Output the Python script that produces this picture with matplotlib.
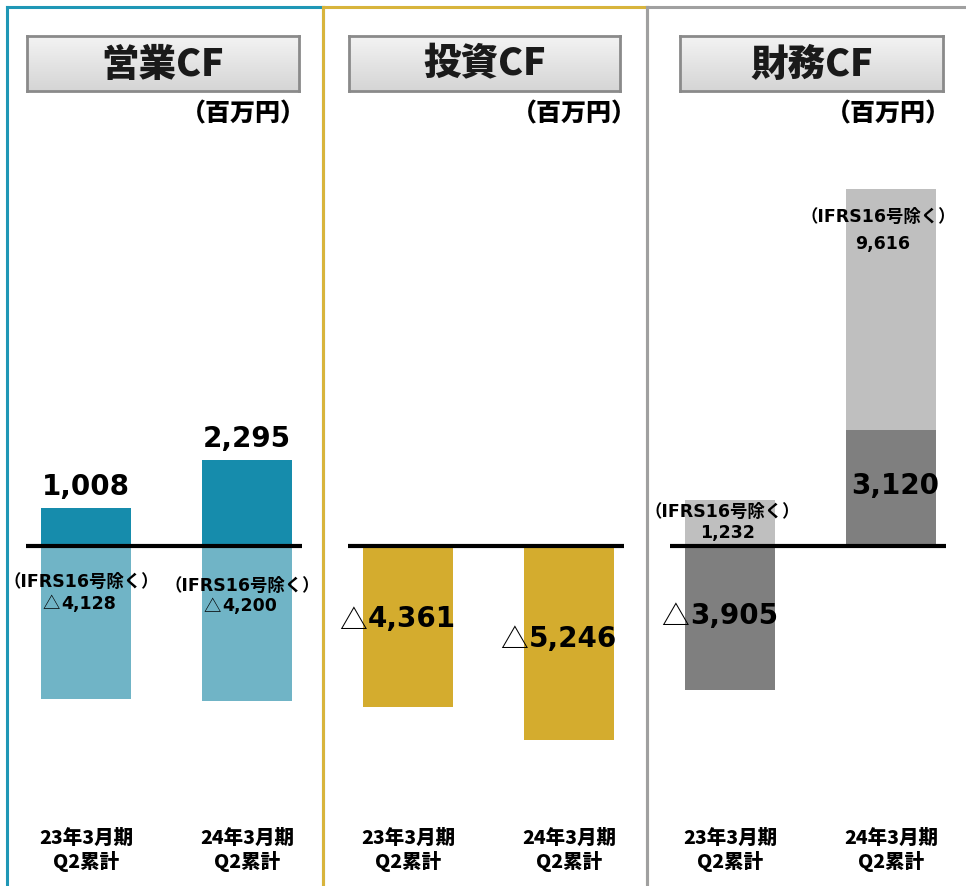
import numpy as np
import matplotlib
matplotlib.use('Agg')
from matplotlib import pyplot as plt
from matplotlib import transforms

# data (百万円)
periods = ['23年3月期\nQ2累計', '24年3月期\nQ2累計']
titles = ['営業CF', '投資CF', '財務CF']
op_cf = [1008, 2295]
op_cf_ex = [-4128, -4200]      # IFRS16号除く
inv_cf = [-4361, -5246]
fin_cf = [-3905, 3120]
fin_cf_ex = [1232, 9616]       # IFRS16号除く

teal, teal_l = '#168cac', '#70b4c6'
gold = '#d4ac2e'
gray, gray_l = '#7f7f7f', '#bfbfbf'

W, H = 966, 886
fig = plt.figure(figsize=(W / 100, H / 100), dpi=100)

jp = ['Noto Sans CJK JP', 'DejaVu Sans']
num = ['DejaVu Sans', 'Noto Sans CJK JP']

k = 0.0371          # px per unit
base = 545.5        # baseline pixel (from top)
top_px = 7
step = 161          # px between the two bars


def fy(p):
    return 1 - p / H


def panel(left, width, c0, edge):
    ax = fig.add_axes([left / W, 0, width / W, (H - top_px) / H])
    ax.set_ylim(-(H - base) / k, (base - top_px) / k)
    ax.set_xlim((left - c0) / step, (left + width - c0) / step)
    ax.set_xticks([])
    ax.set_yticks([])
    ax.patch.set_alpha(0)
    for s in ['left', 'top', 'right']:
        ax.spines[s].set_color(edge)
        ax.spines[s].set_linewidth(2.2)
    ax.spines['bottom'].set_visible(False)
    return ax


def title_box(x0, x1, text):
    tax = fig.add_axes([x0 / W, fy(91), (x1 - x0) / W, 55 / H])
    grad = np.linspace(0, 1, 50).reshape(-1, 1)
    tax.imshow(grad, aspect='auto', cmap=matplotlib.colors.LinearSegmentedColormap.from_list(
        'g', ['#f3f3f3', '#d5d5d5']), extent=[0, 1, 0, 1], origin='upper')
    tax.set_xticks([])
    tax.set_yticks([])
    for s in tax.spines.values():
        s.set_color('#8a8a8a')
        s.set_linewidth(2)
    tax.text(0.5, 0.48, text, ha='center', va='center', fontsize=27,
             fontweight='black', family=jp, color='#1a1a1a', transform=tax.transAxes)


def value(ax, x, y, v, size, dx=0, dy=0):
    t = ax.annotate(f'{abs(v):,}', (x, y), xytext=(dx, dy), textcoords='offset points',
                    ha='center', va='center', fontsize=size, fontweight='bold',
                    family=num, color='black')
    if v < 0:
        ax.annotate('△', xy=(0, 0.45), xycoords=t, xytext=(-1, 0), textcoords='offset points',
                    ha='right', va='center', fontsize=size, family=jp, color='black')
    return t


def note(ax, x, y, dx=0, dy=0):
    ax.annotate('（IFRS16号除く）', (x, y), xytext=(dx, dy), textcoords='offset points',
                ha='center', va='center', fontsize=12.5, fontweight='bold', family=num)


def finish(ax):
    ax.hlines(0, -0.37, 1.34, color='black', lw=3, zorder=5)
    tr = transforms.blended_transform_factory(ax.transData, fig.transFigure)
    for i, p in enumerate(periods):
        for j, line in enumerate(p.split('\n')):
            ax.text(i, fy(838 + 24 * j), line, transform=tr, ha='center', va='center',
                    fontsize=14, fontweight='black', family=jp)


pt = 0.72  # px -> points
x = np.arange(len(periods))
bw = 90 / step

# 営業CF
ax1 = panel(7, 316, 86, '#1f97b6')
ax1.bar(x, op_cf_ex, bw, color=teal_l)
ax1.bar(x, op_cf, bw, color=teal)
for i in range(len(periods)):
    value(ax1, i, op_cf[i], op_cf[i], 20, dy=21 * pt)
    note(ax1, i, 0, dx=-5 * pt, dy=-(36 + 4 * i) * pt)
    value(ax1, i, 0, op_cf_ex[i], 12.5, dx=3 * pt, dy=-(58 + 3 * i) * pt)
finish(ax1)

# 投資CF
ax2 = panel(323, 324, 408, '#d8b43c')
ax2.bar(x, inv_cf, bw, color=gold)
for i in range(len(periods)):
    value(ax2, i, inv_cf[i] / 2, inv_cf[i], 20, dx=4 * pt, dy=(7 - 3 * i) * pt)
finish(ax2)

# 財務CF
ax3 = panel(647, 330, 730, '#a0a0a0')
ax3.bar(x, fin_cf_ex, bw, color=gray_l)
ax3.bar(x, fin_cf, bw, color=gray)
note_off = [(-8, -12, -33), (-13, -28, -55)]
for i in range(len(periods)):
    value(ax3, i, fin_cf[i] / 2, fin_cf[i], 20, dx=4 * pt, dy=2 * pt)
    ddx, d1, d2 = note_off[i]
    note(ax3, i, fin_cf_ex[i], dx=ddx * pt, dy=d1 * pt)
    value(ax3, i, fin_cf_ex[i], fin_cf_ex[i], 12.5, dx=(ddx + 5) * pt, dy=d2 * pt)
finish(ax3)

for (x0, x1), t in zip([(27, 299), (349, 620), (680, 943)], titles):
    title_box(x0, x1, t)
for xr in [306, 637, 951]:
    fig.text(xr / W, fy(113), '（百万円）', ha='right', va='center', fontsize=18,
             fontweight='black', family=jp)

fig.savefig('out.png', dpi=100)
